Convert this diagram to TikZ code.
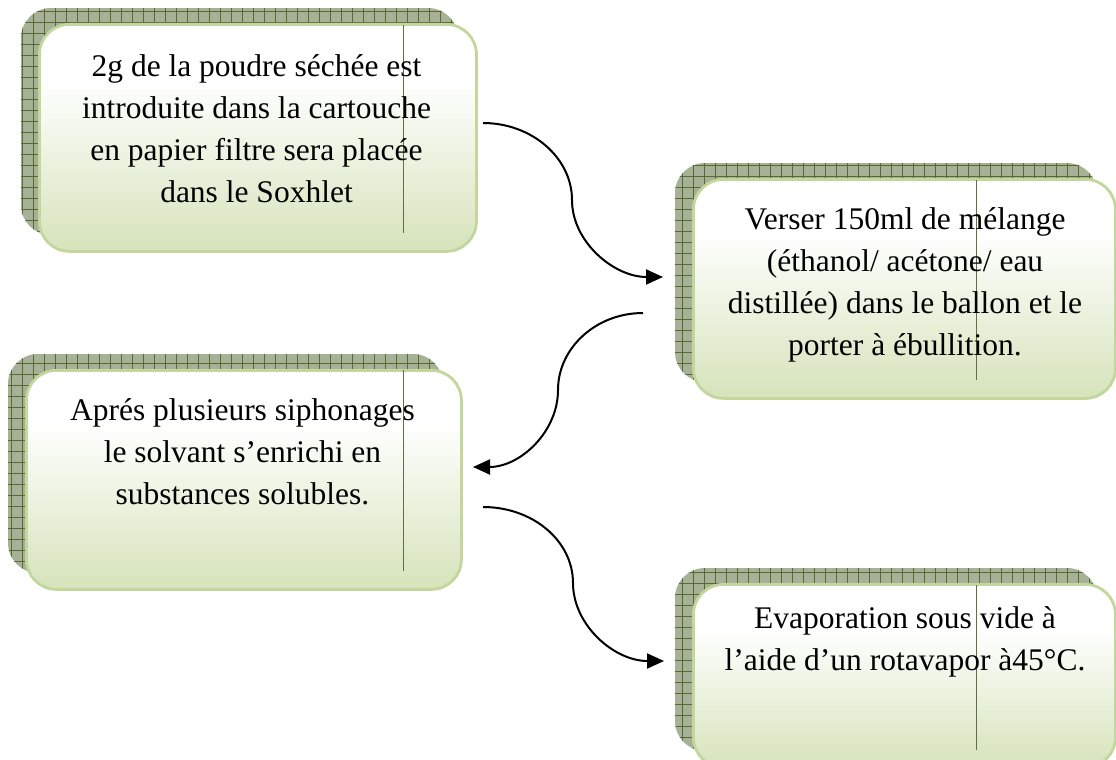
\documentclass[tikz,border=0pt]{standalone}
\usepackage{fontspec}
\setmainfont{Liberation Serif}
\usetikzlibrary{arrows.meta}
\definecolor{boxbot}{HTML}{D6E3BB}
\definecolor{boxborder}{HTML}{C3D69B}
\definecolor{shadowfill}{HTML}{A6B197}
\definecolor{gridline}{HTML}{566A32}
\definecolor{artline}{HTML}{5F6F45}
\pgfdeclareverticalshading{boxshade}{100bp}{color(0bp)=(boxbot); color(25bp)=(boxbot); color(63bp)=(white); color(100bp)=(white)}
\newcommand\myshadow[4]{%
  \begin{scope}
    \clip[rounded corners=30pt] (#1-17,#4-15) rectangle (#3-17,#2-15);
    \fill[shadowfill] (#1-17,#4-15) rectangle (#3-17,#2-15);
    \draw[gridline, line width=0.9pt, step=11pt] (#1-17,#4-15) grid (#3-17,#2-15);
  \end{scope}}
\tikzset{
  mainbox/.style={draw=boxborder, line width=2.8pt, rounded corners=30pt, shading=boxshade, inner sep=0pt, anchor=north west},
  txt/.style={font=\fontsize{31.5}{42}\selectfont, align=center, inner sep=0pt, anchor=base},
  artifact/.style={draw=artline, line width=0.8pt},
  flow/.style={draw=black, line width=2pt, -{Triangle[length=17pt,width=15pt]}}
}
\begin{document}
\begin{tikzpicture}[x=1pt,y=-1pt]
\useasboundingbox (0,0) rectangle (1116,760);
\clip (0,0) rectangle (1116,760);
% shadows
\myshadow{38}{23}{475}{250}
\myshadow{692}{178}{1114}{397}
\myshadow{25}{369}{460}{588}
\myshadow{692}{583}{1114}{766}
% boxes
\node[mainbox, minimum width=437pt, minimum height=227pt] (b1) at (38,23) {};
\node[mainbox, minimum width=422pt, minimum height=219pt] (b2) at (692,178) {};
\node[mainbox, minimum width=435pt, minimum height=219pt] (b3) at (25,369) {};
\node[mainbox, minimum width=422pt, minimum height=183pt] (b4) at (692,583) {};
% artifact lines
\draw[artifact] (403,25) -- (403,233);
\draw[artifact] (976,180) -- (976,380);
\draw[artifact] (403,370) -- (403,571);
\draw[artifact] (976,585) -- (976,750);
% texts (base anchor = last line baseline)
\node[txt] (t1) at (256.5,202) {2g de la poudre séchée est\\introduite dans la cartouche\\en papier filtre sera placée\\dans le Soxhlet};
\node[txt] (t2) at (905,355) {Verser 150ml de mélange\\(éthanol/ acétone/ eau\\distillée) dans le ballon et le\\porter à ébullition.};
\node[txt] (t3) at (242.5,504) {Aprés plusieurs siphonages\\le solvant s’enrichi en\\substances solubles.};
\node[txt] (t4) at (905,670) {Evaporation sous vide à\\l’aide d’un rotavapor à45°C.};
% connectors
\coordinate (a1s) at (483,123);
\coordinate (a1m) at (572,200);
\coordinate (a1e) at (663,277);
\coordinate (a2s) at (643,313);
\coordinate (a2m) at (558,390);
\coordinate (a2e) at (473,467);
\coordinate (a3s) at (483,507);
\coordinate (a3m) at (573,583);
\coordinate (a3e) at (664,661);
\draw[flow] (a1s) .. controls (532,123) and (572,158) .. (a1m) .. controls (572,242) and (614,277) .. (a1e);
\draw[flow] (a2s) .. controls (596,313) and (558,348) .. (a2m) .. controls (558,432) and (520,467) .. (a2e);
\draw[flow] (a3s) .. controls (533,507) and (573,541) .. (a3m) .. controls (573,625) and (614,661) .. (a3e);
\end{tikzpicture}
\end{document}
